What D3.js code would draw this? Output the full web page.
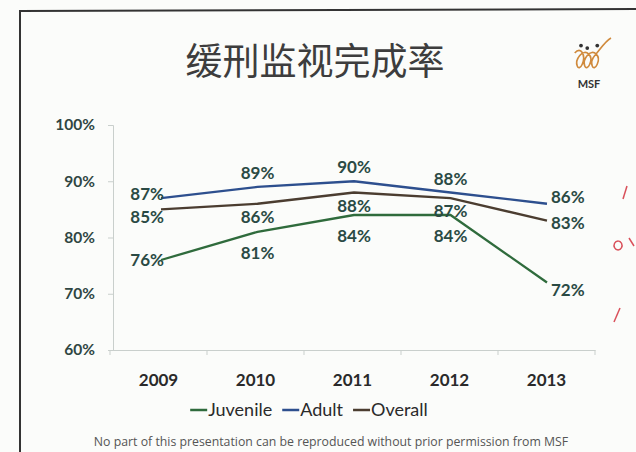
<!DOCTYPE html>
<html><head><meta charset="utf-8">
<script src="https://cdn.jsdelivr.net/npm/d3@7"></script>
<style>html,body{margin:0;padding:0;background:#fdfdfb;}svg{display:block;}</style>
</head><body>
<script>
const years = ["2009","2010","2011","2012","2013"];
const juvenile = [76, 81, 84, 84, 72];
const adult = [87, 89, 90, 88, 86];
const overall = [85, 86, 88, 87, 83];
const yTicks = [60, 70, 80, 90, 100];
const seriesNames = ["Juvenile", "Adult", "Overall"];
const title = "缓刑监视完成率";
const footer = "No part of this presentation can be reproduced without prior permission from MSF";

const W = 636, H = 452;
const FONT = "Lato, 'Open Sans', sans-serif";
const svg = d3.select("body").append("svg").attr("width", W).attr("height", H);
svg.append("rect").attr("width", W).attr("height", H).attr("fill", "#fbfcfa");

// slide frame (photo)
svg.append("path").attr("d", "M20,452 L20,11 L636,9").attr("fill", "none")
  .attr("stroke", "#333").attr("stroke-width", 2);

svg.append("text").attr("x", 315).attr("y", 75).attr("text-anchor", "middle")
  .attr("font-family", "Noto Sans CJK SC").attr("font-size", 37).attr("fill", "#3d3d3d").text(title);

// logo
const logo = svg.append("g").attr("transform", "translate(591,58) scale(1.25)");
logo.append("path").attr("d", "M-13,-4 C-8,-10 -4,-2 -7,5 C-10,12 -14,4 -9,-2 C-4,-8 2,-2 -1,5 C-4,12 -8,4 -3,-2 C2,-8 8,-2 5,5 C2,12 -2,4 3,-2 C8,-8 12,-14 16,-16")
  .attr("fill", "none").attr("stroke", "#d08a3c").attr("stroke-width", 1.3);
logo.selectAll("circle").data([-8, -3, 5]).join("circle").attr("cx", d => d).attr("cy", (d, i) => i === 1 ? -8 : -10).attr("r", 1.5).attr("fill", "#333");
svg.append("text").attr("x", 589).attr("y", 88).attr("text-anchor", "middle").attr("font-family", FONT)
  .attr("font-weight", "bold").attr("font-size", 11).attr("fill", "#333").text("MSF");

const x = d3.scalePoint().domain(years).range([161, 547]).padding(0);
const y = d3.scaleLinear().domain([60, 100]).range([350, 125]);

const axisCol = "#c9cfcc";
const yAxis = svg.append("g").attr("transform", "translate(113,0)")
  .call(d3.axisLeft(y).tickValues(yTicks).tickSize(5).tickFormat(d => d + "%"));
yAxis.select(".domain").attr("stroke", axisCol);
yAxis.selectAll(".tick line").attr("stroke", axisCol);
yAxis.selectAll("text").attr("x", -18).attr("font-family", FONT).attr("font-weight", "bold")
  .attr("font-size", 15.5).attr("fill", "#2f4642");

const xb = d3.scaleBand().domain(years).range([110, 595]);
const xAxis = svg.append("g").attr("transform", "translate(0,350)")
  .call(d3.axisBottom(xb).tickSize(0));
xAxis.select(".domain").attr("stroke", axisCol);
xAxis.selectAll("text").attr("dy", 0).attr("y", 36).attr("font-family", FONT).attr("font-weight", "bold")
  .attr("font-size", 17).attr("fill", "#2a2a2a");
svg.append("g").selectAll("line").data(years.concat(["end"])).join("line")
  .attr("x1", (d, i) => 110 + i * xb.step()).attr("x2", (d, i) => 110 + i * xb.step())
  .attr("y1", 350).attr("y2", 355).attr("stroke", axisCol);

// label offsets (baseline relative to point): [first, middle, last]
const series = [
  {name: seriesNames[0], vals: juvenile, color: "#2f6b3c", off: [6, 27, 13]},
  {name: seriesNames[1], vals: adult, color: "#2d4f8e", off: [2, -8, -1]},
  {name: seriesNames[2], vals: overall, color: "#4b3d30", off: [14, 19, 8]}
];
const line = d3.line().x((d, i) => x(years[i])).y(d => y(d));
series.forEach(s => {
  svg.append("path").datum(s.vals).attr("d", line).attr("fill", "none")
    .attr("stroke", s.color).attr("stroke-width", 2.3);
});
const lblCol = "#2a4a44";
series.forEach(s => {
  svg.append("g").selectAll("text").data(s.vals).join("text")
    .attr("x", (d, i) => i === 0 ? x(years[i]) + 3 : i === 4 ? x(years[i]) + 4 : x(years[i]))
    .attr("y", (d, i) => y(d) + (i === 0 ? s.off[0] : i === 4 ? s.off[2] : s.off[1]))
    .attr("text-anchor", (d, i) => i === 0 ? "end" : i === 4 ? "start" : "middle")
    .attr("font-family", FONT).attr("font-weight", "bold").attr("font-size", 17)
    .attr("fill", lblCol).text(d => d + "%");
});

// legend
const legend = svg.append("g");
let lx = 0;
series.forEach(s => {
  legend.append("line").attr("x1", lx).attr("x2", lx + 17).attr("y1", -6).attr("y2", -6)
    .attr("stroke", s.color).attr("stroke-width", 2.5);
  const t = legend.append("text").attr("x", lx + 18).attr("y", 0).attr("font-family", FONT)
    .attr("font-size", 18).attr("fill", "#2a2a2a").text(s.name);
  lx += 18 + t.node().getComputedTextLength() + 10;
});
legend.attr("transform", `translate(${185 + (433 - 185 - (lx - 10)) / 2},416)`);

svg.append("text").attr("x", 331).attr("y", 446).attr("text-anchor", "middle").attr("font-family", "'Open Sans', sans-serif")
  .attr("font-size", 12.3).attr("fill", "#555").text(footer);

// handwritten red marks
svg.append("g").attr("fill", "none").attr("stroke", "#d9505a").attr("stroke-width", 1.5)
  .selectAll("path").data(["M627,186 L623,199", "M618,241 a4,4.5 0 1,0 0.1,0", "M629,238 L634,246", "M620,308 L614,322"])
  .join("path").attr("d", d => d);
</script>
</body></html>
